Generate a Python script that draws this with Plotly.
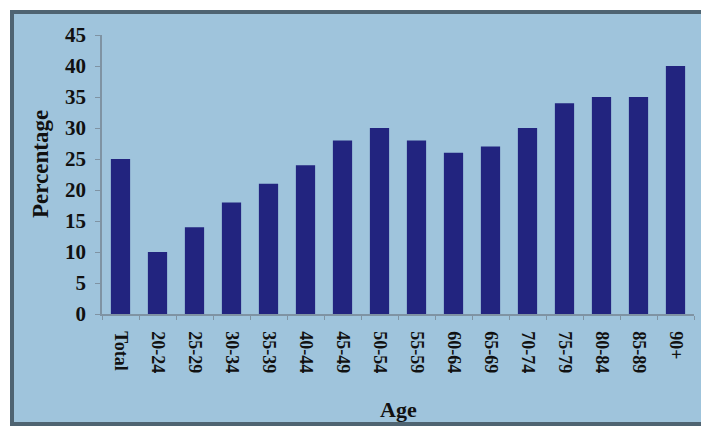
import plotly.graph_objects as go

categories = ["Total", "20-24", "25-29", "30-34", "35-39", "40-44", "45-49", "50-54",
              "55-59", "60-64", "65-69", "70-74", "75-79", "80-84", "85-89", "90+"]
percentages = [25, 10, 14, 18, 21, 24, 28, 30, 28, 26, 27, 30, 34, 35, 35, 40]
y_ticks = [0, 5, 10, 15, 20, 25, 30, 35, 40, 45]

FONT = "Liberation Serif"
BAR = "#22247f"
BG = "#9fc4dc"
AXIS = "#7f93a3"
FRAME = "#4f6472"

# plot area pixel geometry (for the framing rectangle in paper coords)
L, R, T, B = 102, 7, 35, 113
W, H = 701, 427
pw, ph = W - L - R, H - T - B

def px_x(x):
    return (x - L) / pw

def px_y(y):
    return (H - B - y) / ph

fig = go.Figure(go.Bar(
    x=categories, y=percentages,
    marker=dict(color=BAR, line=dict(width=0)),
    width=0.52,
))

# light-blue panel with a frame on top, left and bottom (open to the right edge)
fig.add_shape(type="rect", xref="paper", yref="paper",
              x0=px_x(12), x1=px_x(W), y0=px_y(424), y1=px_y(12),
              fillcolor=BG, line=dict(width=0), layer="below")
for (xa, ya, xb, yb) in [(10, 12, W, 12), (12, 10, 12, 426), (10, 424, W, 424)]:
    fig.add_shape(type="line", xref="paper", yref="paper",
                  x0=px_x(xa), y0=px_y(ya), x1=px_x(xb), y1=px_y(yb),
                  line=dict(color=FRAME, width=4), layer="below")

fig.update_layout(
    width=W, height=H,
    margin=dict(l=L, r=R, t=T, b=B),
    paper_bgcolor="white",
    plot_bgcolor="rgba(0,0,0,0)",
    showlegend=False,
    font=dict(family=FONT, color="#111111"),
    xaxis=dict(
        type="category",
        range=[-0.5, 15.5],
        showline=True, linecolor=AXIS, linewidth=1.5,
        ticks="outside", ticklen=4, tickcolor=AXIS, tickson="boundaries",
        tickangle=90,
        tickfont=dict(family=FONT, size=18, color="#111111", weight="bold"),
        ticklabelstandoff=12,
        showgrid=False, zeroline=False,
    ),
    yaxis=dict(
        range=[0, 45],
        tickvals=y_ticks,
        showline=True, linecolor=AXIS, linewidth=1.5,
        ticks="outside", ticklen=5, tickcolor=AXIS,
        tickfont=dict(family=FONT, size=21, color="#111111", weight="bold"),
        ticklabelstandoff=5,
        showgrid=False, zeroline=False,
    ),
    annotations=[
        dict(text="<b>Percentage</b>", xref="paper", yref="paper",
             x=px_x(40), y=px_y(164), showarrow=False, textangle=-90,
             font=dict(family=FONT, size=23, color="#111111"),
             xanchor="center", yanchor="middle"),
        dict(text="<b>Age</b>", xref="paper", yref="paper",
             x=px_x(398), y=px_y(409), showarrow=False,
             font=dict(family=FONT, size=22, color="#111111"),
             xanchor="center", yanchor="middle"),
    ],
)

fig.write_html("out.html")
